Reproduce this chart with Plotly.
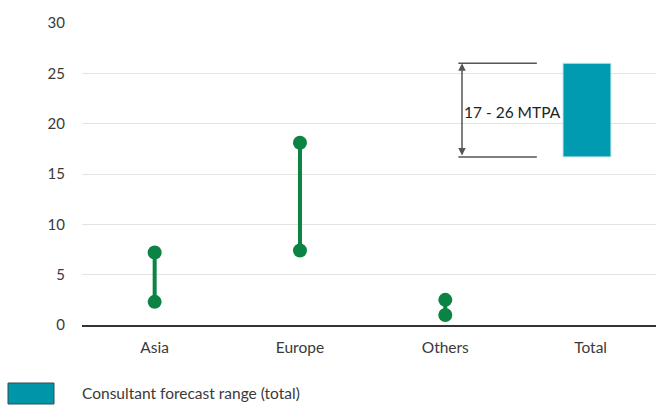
import plotly.graph_objects as go

categories = ["Asia", "Europe", "Others", "Total"]
region_low = [2.3, 7.4, 1.0]
region_high = [7.2, 18.1, 2.5]
total_low = 16.7
total_high = 26.0
range_label = "17 - 26 MTPA"
legend_label = "Consultant forecast range (total)"
y_ticks = [0, 5, 10, 15, 20, 25, 30]

GREEN = "#0b8443"
TEAL = "#009bb1"
FONT = "Lato"
TXT = "#3a3a3a"

fig = go.Figure()

for i, cat in enumerate(categories[:3]):
    fig.add_trace(go.Scatter(
        x=[cat, cat], y=[region_low[i], region_high[i]],
        mode="lines+markers",
        line=dict(color=GREEN, width=4),
        marker=dict(color=GREEN, size=14),
        showlegend=False, hoverinfo="y",
    ))

fig.add_trace(go.Bar(
    x=[categories[3]], y=[total_high - total_low], base=[total_low],
    width=0.33, offset=-0.19,
    marker=dict(color=TEAL, line=dict(color="#bfe6ec", width=1)),
    name=legend_label, showlegend=False,
))

# bracket lines of the range annotation
for v in (total_low, total_high):
    fig.add_shape(type="line", xref="x", yref="y", x0=2.09, x1=2.63, y0=v, y1=v,
                  line=dict(color="#555555", width=1.5))

fig.add_annotation(x=2.115, y=total_high, ax=2.115, ay=total_low,
                   xref="x", yref="y", axref="x", ayref="y",
                   showarrow=True, arrowhead=2, arrowside="end+start",
                   arrowsize=1, arrowwidth=1.5, arrowcolor="#555555", text="")
fig.add_annotation(x=2.115, y=21.2, xref="x", yref="y", text=range_label,
                   showarrow=False, xanchor="left", yanchor="middle",
                   font=dict(family=FONT, size=15.5, color="#222222"))

# legend swatch and label
fig.add_shape(type="rect", xref="paper", yref="paper",
              x0=(8 - 82) / 574, x1=(54 - 82) / 574,
              y0=-(404 - 325) / 302, y1=-(383 - 325) / 302,
              fillcolor="#0096aa", line=dict(color="#2f4f55", width=1))
fig.add_annotation(xref="paper", yref="paper", x=-0.004, y=-(393 - 325) / 302,
                   text=legend_label, showarrow=False, xanchor="left",
                   yanchor="middle", font=dict(family=FONT, size=15.5, color=TXT))

fig.update_layout(
    width=656, height=405,
    margin=dict(l=82, r=0, t=23, b=80),
    plot_bgcolor="white", paper_bgcolor="white",
    font=dict(family=FONT, size=15, color=TXT),
    showlegend=False,
    xaxis=dict(type="category", categoryorder="array", categoryarray=categories,
               range=[-0.5, 3.45], showgrid=False, showline=True,
               linecolor="#333333", linewidth=1.5, ticks="", ticklabelstandoff=8,
               tickfont=dict(size=15.5)),
    yaxis=dict(range=[0, 30], tickvals=y_ticks, showgrid=True,
               gridcolor="#e3e3e3", gridwidth=1, zeroline=False,
               showline=False, ticks="", ticklabelstandoff=16),
)

fig.write_html("out.html", config={"displayModeBar": False},
               post_script="document.body.style.margin='0';document.body.style.overflow='hidden';")
